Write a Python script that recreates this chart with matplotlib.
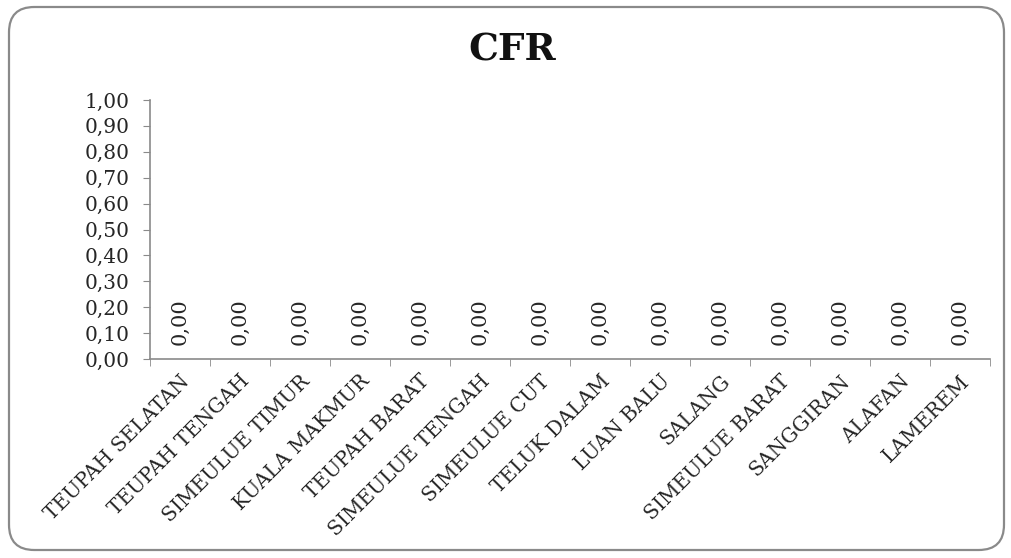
import matplotlib
matplotlib.use("Agg")
import matplotlib.pyplot as plt
from matplotlib.patches import FancyBboxPatch
import numpy as np

categories = ["TEUPAH SELATAN", "TEUPAH TENGAH", "SIMEULUE TIMUR", "KUALA MAKMUR",
              "TEUPAH BARAT", "SIMEULUE TENGAH", "SIMEULUE CUT", "TELUK DALAM",
              "LUAN BALU", "SALANG", "SIMEULUE BARAT", "SANGGIRAN", "ALAFAN", "LAMEREM"]
cfr = [0.00] * 14
yticks = [0.0, 0.1, 0.2, 0.3, 0.4, 0.5, 0.6, 0.7, 0.8, 0.9, 1.0]

plt.rcParams['font.family'] = ['DejaVu Serif']
TXT = '#262626'

fig = plt.figure(figsize=(10.12, 5.58), dpi=100)
fig.patch.set_facecolor('white')

# rounded chart frame, kept behind the axes
frame = FancyBboxPatch((9 / 1012, 8 / 558), 995 / 1012, 543 / 558,
                       boxstyle="round,pad=0,rounding_size=0.025",
                       transform=fig.transFigure, facecolor='white',
                       edgecolor='#8a8a8a', linewidth=1.6, mutation_aspect=1012 / 558,
                       zorder=-10)
fig.patches.append(frame)

ax = fig.add_axes([150 / 1012, 1 - 359 / 558, 840 / 1012, 259 / 558], zorder=5)
ax.set_facecolor('none')
x = np.arange(len(categories))
ax.bar(x, cfr, width=0.6, color='#4f81bd')
ax.set_xlim(-0.5, len(categories) - 0.5)
ax.set_ylim(0, 1.0)

ax.set_yticks(yticks)
ax.set_yticklabels([f"{v:.2f}".replace('.', ',') for v in yticks], fontsize=14.5, color=TXT)
ax.set_xticks(x)
ax.set_xticklabels(categories, rotation=45, ha='right', va='top',
                   rotation_mode='anchor', fontsize=14.5, color=TXT)
ax.tick_params(axis='x', length=0, pad=9)
ax.set_xticks(np.arange(len(categories) + 1) - 0.5, minor=True)
ax.tick_params(axis='x', which='minor', length=5, color='#8a8a8a', direction='out')
ax.tick_params(axis='y', length=5, color='#8a8a8a', direction='out', pad=10)

for s in ['top', 'right']:
    ax.spines[s].set_visible(False)
for s in ['left', 'bottom']:
    ax.spines[s].set_color('#8a8a8a')
    ax.spines[s].set_linewidth(1.2)

for xi, v in zip(x, cfr):
    ax.annotate(f"{v:.2f}".replace('.', ','), (xi, v), xytext=(0, 10),
                textcoords='offset points', rotation=90, ha='center', va='bottom',
                fontsize=15, color=TXT)

fig.text(512 / 1012, 1 - 50 / 558, "CFR", ha='center', va='center',
         fontsize=27, fontweight='bold', color='#111111')

fig.savefig("out.png", dpi=100)
